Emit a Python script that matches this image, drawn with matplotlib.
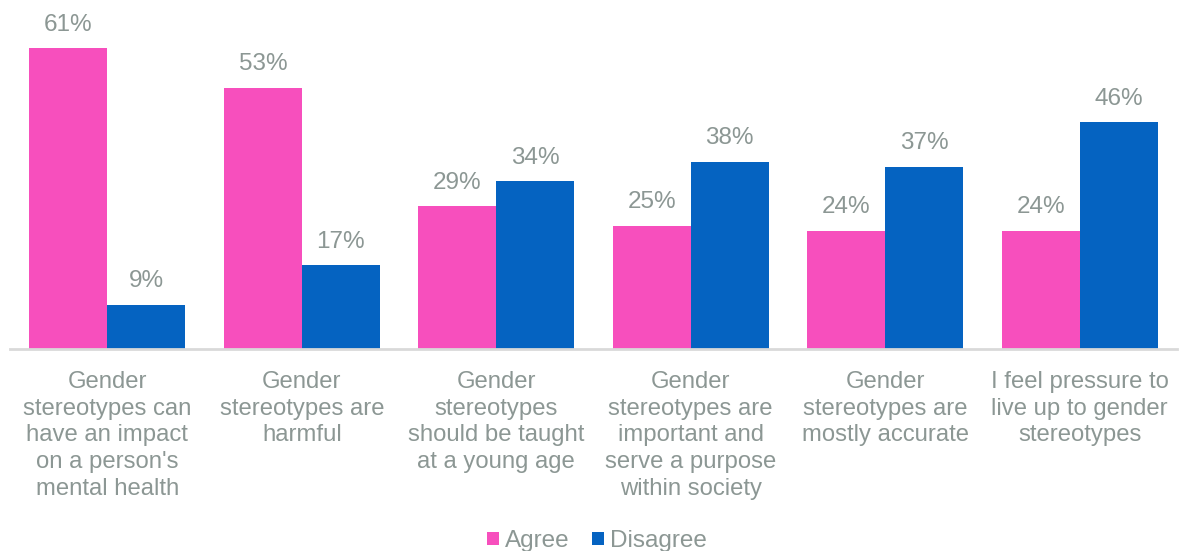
import numpy as np
import matplotlib.pyplot as plt

categories = ["Gender\nstereotypes can\nhave an impact\non a person's\nmental health",
              "Gender\nstereotypes are\nharmful",
              "Gender\nstereotypes\nshould be taught\nat a young age",
              "Gender\nstereotypes are\nimportant and\nserve a purpose\nwithin society",
              "Gender\nstereotypes are\nmostly accurate",
              "I feel pressure to\nlive up to gender\nstereotypes"]
agree = [61, 53, 29, 25, 24, 24]
disagree = [9, 17, 34, 38, 37, 46]

pink = '#F74FBD'
blue = '#0563C1'
grey = '#8C9794'

plt.rcParams['font.family'] = ['Liberation Sans', 'DejaVu Sans']

fig = plt.figure(figsize=(11.8, 5.51), dpi=100)
ax = fig.add_axes([10/1180, 202/551, 1167/1180, 345/551])

x = np.arange(len(categories))
w = 0.4
b1 = ax.bar(x - w/2, agree, w, color=pink, label='Agree')
b2 = ax.bar(x + w/2, disagree, w, color=blue, label='Disagree')

# value labels above bars
for bars, vals in [(b1, agree), (b2, disagree)]:
    for r, v in zip(bars, vals):
        ax.annotate('%d%%' % v, (r.get_x() + r.get_width()/2, v),
                    xytext=(0, 9), textcoords='offset points',
                    ha='center', va='bottom', fontsize=17.5, color=grey)

ax.set_xlim(-0.5, len(categories) - 0.5)
ax.set_ylim(0, 70)
ax.set_xticks(x)
ax.set_xticklabels(categories, fontsize=17.2, color=grey, linespacing=1.27)
ax.tick_params(axis='x', length=0, pad=16)
ax.set_yticks([])
for s in ['top', 'right', 'left']:
    ax.spines[s].set_visible(False)
ax.spines['bottom'].set_color('#D9D9D9')
ax.spines['bottom'].set_linewidth(2)

leg = fig.legend(handles=[b1, b2], loc='center', bbox_to_anchor=(0.506, 0.018),
                 ncol=2, frameon=False, fontsize=17.5, handlelength=0.5,
                 handleheight=0.5, handletextpad=0.25, columnspacing=0.9)
for t in leg.get_texts():
    t.set_color(grey)

fig.savefig('out.png', dpi=100)
